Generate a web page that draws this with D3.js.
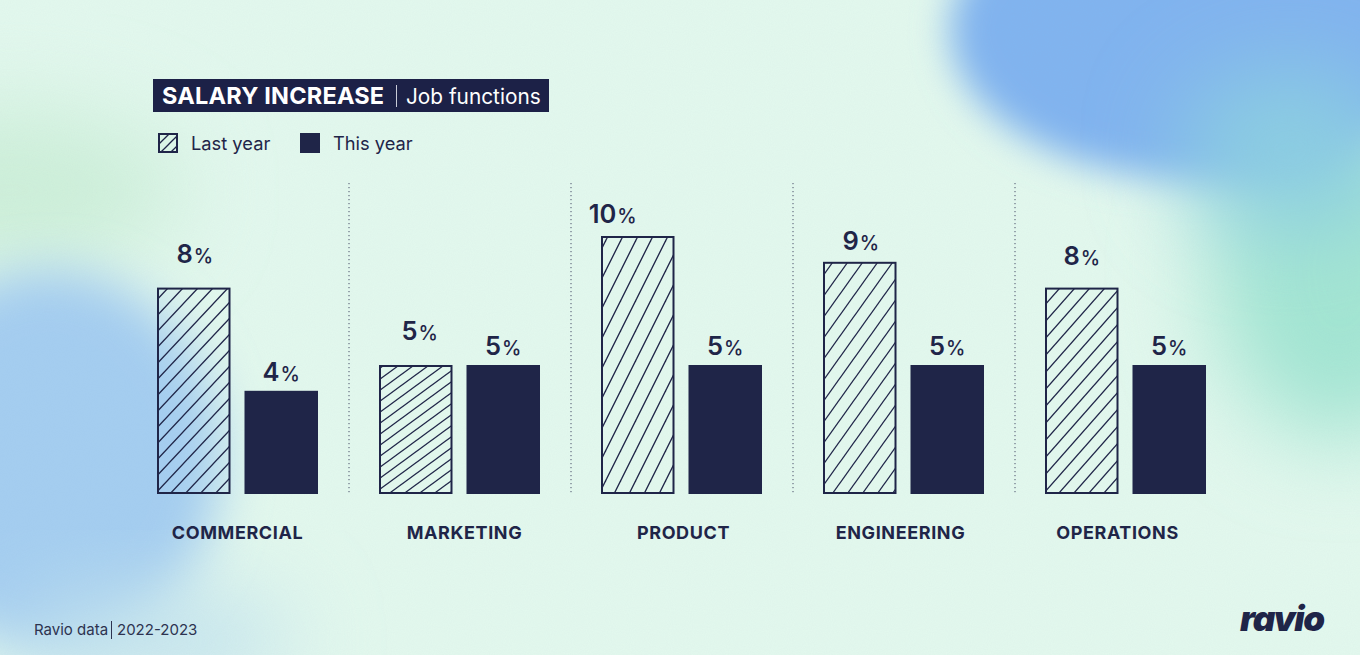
<!DOCTYPE html>
<html><head><meta charset="utf-8">
<script src="https://cdn.jsdelivr.net/npm/d3@7"></script>
<style>
html,body{margin:0;padding:0;background:#e2f8ed;}
svg{display:block;font-family:Inter,"Noto Sans",sans-serif;}
</style></head>
<body>
<script>
const categories = ["COMMERCIAL","MARKETING","PRODUCT","ENGINEERING","OPERATIONS"];
const seriesNames = ["Last year","This year"];
const lastYear = [8,5,10,9,8];
const thisYear = [4,5,5,5,5];
// layout quirks of the original (not data)
const hatchRise = [16,11,30,21,17];
const lastLabelGap = [25,25,13,12,23];
const lastLabelShift = [1,4,-25,1,0];
const thisLabelGap = [10,10,10,10,10];
const catLabelShift = [0,5,2,-3,-8];

const W=1360,H=655, ink="#1f2548";
const svg=d3.select("body").append("svg").attr("width",W).attr("height",H);
const defs=svg.append("defs");

function mkBlur(id,s){
  defs.append("filter").attr("id",id).attr("x","-60%").attr("y","-60%").attr("width","220%").attr("height","220%")
    .append("feGaussianBlur").attr("stdDeviation",s);
}
mkBlur("blur",45); mkBlur("blur2",18); mkBlur("blur3",25);
const noise=defs.append("filter").attr("id","noise");
noise.append("feTurbulence").attr("type","fractalNoise").attr("baseFrequency",0.95).attr("numOctaves",2);
noise.append("feColorMatrix").attr("type","matrix").attr("values","0 0 0 0 0.3  0 0 0 0 0.35  0 0 0 0 0.45  0 0 0 0.06 0");

const bg=svg.append("g");
bg.append("rect").attr("width",W).attr("height",H).attr("fill","#e3f9ee");
bg.append("ellipse").attr("cx",10).attr("cy",190).attr("rx",170).attr("ry",80).attr("fill","#cdf0d9").attr("filter","url(#blur)");
bg.append("ellipse").attr("cx",1340).attr("cy",270).attr("rx",130).attr("ry",170).attr("fill","#a3e6d3").attr("filter","url(#blur)");
bg.append("ellipse").attr("cx",1200).attr("cy",30).attr("rx",250).attr("ry",150).attr("fill","#80b4f0").attr("filter","url(#blur2)");
bg.append("ellipse").attr("cx",1290).attr("cy",150).attr("rx",110).attr("ry",80).attr("fill","#8ccfe2").attr("filter","url(#blur)");
bg.append("ellipse").attr("cx",50).attr("cy",460).attr("rx",170).attr("ry",190).attr("fill","#a4cef1").attr("filter","url(#blur3)");
bg.append("ellipse").attr("cx",150).attr("cy",640).attr("rx",140).attr("ry",50).attr("fill","#c2e3ef").attr("filter","url(#blur)");
bg.append("rect").attr("width",W).attr("height",H).attr("filter","url(#noise)");

// scales
const x0=d3.scaleBand().domain(categories).range([127,1237]).padding(0);
const x1=d3.scaleBand().domain(seriesNames).range([30,x0.bandwidth()-31]).paddingInner(0.16);
const y=d3.scaleLinear().domain([0,10]).range([494,236]);

// hatch patterns
categories.forEach((c,i)=>{
  const dx=15, dy=hatchRise[i];
  const p=defs.append("pattern").attr("id","hatch"+i).attr("patternUnits","userSpaceOnUse")
    .attr("width",dx).attr("height",dy).attr("x",x0(c)+x1("Last year")+4).attr("y",0);
  [-dx,0,dx].forEach(o=>{
    p.append("line").attr("x1",o-dx).attr("y1",2*dy).attr("x2",o+2*dx).attr("y2",-dy)
      .attr("stroke",ink).attr("stroke-width",1.3);
  });
});
const lp=defs.append("pattern").attr("id","hatchLegend").attr("patternUnits","userSpaceOnUse")
  .attr("width",10).attr("height",10).attr("x",159).attr("y",134);
[-10,0,10].forEach(o=>lp.append("line").attr("x1",o-10).attr("y1",20).attr("x2",o+20).attr("y2",-10).attr("stroke",ink).attr("stroke-width",1.3));

// separators
svg.append("g").selectAll("line").data(categories.slice(1)).join("line")
  .attr("x1",d=>x0(d)).attr("x2",d=>x0(d)).attr("y1",183).attr("y2",494)
  .attr("stroke","#4a506a").attr("stroke-width",1).attr("stroke-dasharray","1.2,2.8");

// bars
const groups=svg.append("g").selectAll("g").data(categories).join("g")
  .attr("transform",d=>`translate(${x0(d)},0)`);
groups.append("rect")
  .attr("x",x1("Last year")+1).attr("width",x1.bandwidth()-2)
  .attr("y",(d,i)=>y(lastYear[i])+1).attr("height",(d,i)=>y(0)-y(lastYear[i])-2)
  .attr("fill",(d,i)=>`url(#hatch${i})`).attr("stroke",ink).attr("stroke-width",2);
groups.append("rect")
  .attr("x",x1("This year")).attr("width",x1.bandwidth())
  .attr("y",(d,i)=>y(thisYear[i])).attr("height",(d,i)=>y(0)-y(thisYear[i]))
  .attr("fill",ink);

function valueLabel(sel,vals,key,gaps,shifts){
  const t=sel.append("text").attr("text-anchor","middle")
    .attr("x",(d,i)=>x1(key)+x1.bandwidth()/2+(shifts?shifts[i]:0))
    .attr("y",(d,i)=>y(vals[i])-gaps[i]).attr("fill",ink);
  t.append("tspan").attr("font-size",25.5).attr("font-weight",600).text((d,i)=>vals[i]);
  t.append("tspan").attr("font-size",19.5).attr("font-weight",500).attr("dx",1).text("%");
}
valueLabel(groups,lastYear,"Last year",lastLabelGap,lastLabelShift);
valueLabel(groups,thisYear,"This year",thisLabelGap,null);

groups.append("text")
  .attr("x",(d,i)=>(x1("Last year")+x1("This year")+x1.bandwidth())/2+catLabelShift[i])
  .attr("y",539).attr("text-anchor","middle").attr("font-size",18).attr("font-weight",700)
  .attr("letter-spacing",0.6).attr("fill",ink).text(d=>d);

// title
svg.append("rect").attr("x",153).attr("y",79).attr("width",396).attr("height",33).attr("fill","#1c2147");
svg.append("text").attr("x",162).attr("y",104).attr("fill","#fff").attr("font-size",23.5).attr("font-weight",700).attr("letter-spacing",0.2).text("SALARY INCREASE");
svg.append("line").attr("x1",396.5).attr("x2",396.5).attr("y1",85).attr("y2",107).attr("stroke","#c8cbd8").attr("stroke-width",1);
svg.append("text").attr("x",406).attr("y",104).attr("fill","#fff").attr("font-size",20.8).attr("font-weight",400).text("Job functions");

// legend
const leg=svg.append("g");
leg.append("rect").attr("x",159).attr("y",134).attr("width",18).attr("height",18).attr("fill","url(#hatchLegend)").attr("stroke",ink).attr("stroke-width",2);
leg.append("text").attr("x",191).attr("y",150).attr("font-size",18.3).attr("fill",ink).text(seriesNames[0]);
leg.append("rect").attr("x",300).attr("y",133).attr("width",20).attr("height",20).attr("fill",ink);
leg.append("text").attr("x",333).attr("y",150).attr("font-size",18.3).attr("fill",ink).text(seriesNames[1]);

// footer
svg.append("text").attr("x",34).attr("y",635).attr("font-size",15).attr("fill","#2d3350").text("Ravio data");
svg.append("line").attr("x1",111.5).attr("x2",111.5).attr("y1",621).attr("y2",639).attr("stroke","#2d3350").attr("stroke-width",1);
svg.append("text").attr("x",117).attr("y",635).attr("font-size",15).attr("fill","#2d3350").text("2022-2023");

// logo
svg.append("text").attr("x",1240).attr("y",631).attr("font-size",35).attr("font-weight",900).attr("font-style","italic")
  .attr("letter-spacing",-1.3).attr("fill",ink).text("ravio");
</script>
</body></html>
